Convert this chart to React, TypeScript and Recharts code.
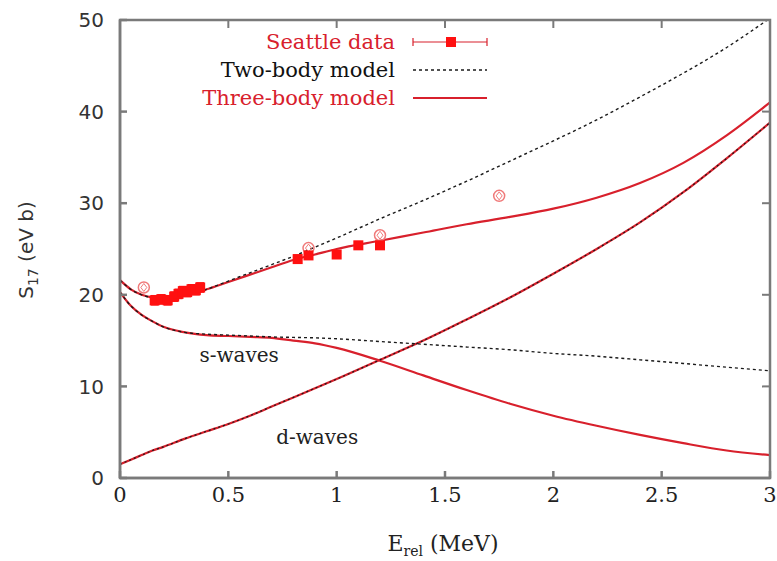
import React from 'react';
import { ComposedChart, Line, Scatter, XAxis, YAxis, ErrorBar, ReferenceDot } from 'recharts';

// Energy grid (MeV) shared by the theory curves
const energyGrid = [0, 0.05, 0.1, 0.15, 0.2, 0.3, 0.4, 0.5, 0.6, 0.7, 0.8, 0.9, 1.0, 1.2, 1.4, 1.6, 1.8, 2.0, 2.2, 2.4, 2.6, 2.8, 3.0];

// Three-body model (red solid)
const threeBodyTotal = [21.6, 20.6, 20.0, 19.7, 19.6, 19.9, 20.6, 21.4, 22.2, 23.0, 23.8, 24.4, 25.0, 25.9, 26.8, 27.7, 28.5, 29.4, 30.6, 32.2, 34.4, 37.4, 41.0];
const threeBodySWave = [20.3, 18.8, 17.8, 17.1, 16.5, 15.9, 15.6, 15.5, 15.4, 15.3, 15.0, 14.7, 14.2, 12.8, 11.2, 9.6, 8.1, 6.8, 5.7, 4.7, 3.8, 3.0, 2.5];
const threeBodyDWave = [1.5, 2.0, 2.5, 3.0, 3.4, 4.3, 5.1, 5.9, 6.8, 7.8, 8.8, 9.8, 10.8, 12.9, 15.0, 17.3, 19.7, 22.3, 25.0, 27.9, 31.2, 34.9, 38.8];

// Two-body model (black dashed)
const twoBodyTotal = [21.6, 20.6, 20.0, 19.7, 19.6, 19.9, 20.6, 21.5, 22.4, 23.3, 24.2, 25.2, 26.2, 28.3, 30.3, 32.4, 34.6, 36.8, 39.1, 41.6, 44.2, 47.0, 50.2];
const twoBodySWave = [20.3, 18.8, 17.8, 17.1, 16.5, 15.9, 15.7, 15.6, 15.5, 15.4, 15.35, 15.3, 15.2, 14.9, 14.6, 14.3, 14.0, 13.6, 13.3, 12.9, 12.5, 12.1, 11.7];
const twoBodyDWave = [1.5, 2.0, 2.5, 3.0, 3.4, 4.3, 5.1, 5.9, 6.8, 7.8, 8.8, 9.8, 10.8, 12.9, 15.0, 17.3, 19.7, 22.3, 25.0, 27.9, 31.2, 34.9, 38.8];

// Seattle data (filled squares)
const seattleE = [0.16, 0.19, 0.22, 0.25, 0.27, 0.29, 0.31, 0.33, 0.35, 0.37, 0.82, 0.87, 1.0, 1.1, 1.2];
const seattleS = [19.4, 19.5, 19.4, 19.8, 20.1, 20.4, 20.3, 20.6, 20.5, 20.8, 23.9, 24.3, 24.4, 25.4, 25.4];
const seattleErr = [0.5, 0.5, 0.5, 0.5, 0.5, 0.5, 0.5, 0.5, 0.5, 0.5, 0.4, 0.4, 0.4, 0.4, 0.4];

// Other measurements (open pink symbols)
const otherE = [0.11, 0.87, 1.2, 1.75];
const otherS = [20.8, 25.1, 26.5, 30.8];

const xTicks = [0, 0.5, 1, 1.5, 2, 2.5, 3];
const yTicks = [0, 10, 20, 30, 40, 50];

const toPoints = (xs: number[], ys: number[]) => xs.map((x, i) => ({ x, y: ys[i] }));
const seattleData = seattleE.map((x, i) => ({ x, y: seattleS[i], err: seattleErr[i] }));
const otherData = toPoints(otherE, otherS);

const RED = '#d8202c';
const BRIGHT = '#ff1010';
const PINK = '#f07a7a';
const AXIS = '#7a7a7a';
const SERIF = '"DejaVu Serif", "Liberation Serif", serif';
const SANS = '"DejaVu Sans", "Liberation Sans", sans-serif';

// plot frame (pixels) used only for the decorative border / mirrored ticks
const FRAME = { left: 120, top: 20, right: 770, bottom: 478 };
const xMax = 3;
const yMax = 50;

const Square = (p: any) => (
  <rect x={p.cx - 5} y={p.cy - 5} width={10} height={10} fill={BRIGHT} />
);
const OpenMark = (p: any) => (
  <g>
    <circle cx={p.cx} cy={p.cy} r={5.5} fill="none" stroke={PINK} strokeWidth={1.5} />
    <path d={`M${p.cx} ${p.cy - 4} L${p.cx + 3} ${p.cy} L${p.cx} ${p.cy + 4} L${p.cx - 3} ${p.cy} Z`} fill="none" stroke={PINK} strokeWidth={1} />
  </g>
);

const fmt = (v: number) => String(v);

export default function App() {
  const fw = FRAME.right - FRAME.left;
  const fh = FRAME.bottom - FRAME.top;
  const LX = 190;
  const LY = 25;
  return (
    <div style={{ position: 'absolute', left: 0, top: 0, width: 777, height: 561, background: '#fff' }}>
      <ComposedChart width={777} height={561} margin={{ top: 20, right: 7, bottom: 43, left: 60 }}>
        <XAxis
          xAxisId="x"
          dataKey="x"
          type="number"
          domain={[0, 3]}
          ticks={xTicks}
          tickFormatter={fmt}
          allowDataOverflow
          height={40}
          stroke={AXIS}
          strokeWidth={2.5}
          tickSize={-7}
          tickMargin={16}
          tick={{ fontFamily: SERIF, fontSize: 21, fill: '#222' }}
          label={{
            content: () => (
              <text x={443} y={551} textAnchor="middle" fontFamily={SERIF} fontSize={22} fill="#222">
                E<tspan dy={5} fontSize={14}>rel</tspan>
                <tspan dy={-5}> (MeV)</tspan>
              </text>
            ),
          }}
        />
        <YAxis
          yAxisId="y"
          type="number"
          domain={[0, 50]}
          ticks={yTicks}
          allowDataOverflow
          width={60}
          stroke={AXIS}
          strokeWidth={2.5}
          tickSize={-7}
          tickMargin={23}
          tick={{ fontFamily: SANS, fontSize: 20, fill: '#333' }}
          label={{
            content: () => (
              <text x={33} y={250} transform="rotate(-90 33 250)" textAnchor="middle" fontFamily={SANS} fontSize={20} fill="#333">
                S<tspan dy={5} fontSize={14}>17</tspan>
                <tspan dy={-5}> (eV b)</tspan>
              </text>
            ),
          }}
        />

        <Line xAxisId="x" yAxisId="y" data={toPoints(energyGrid, threeBodyTotal)} dataKey="y" type="monotone" stroke={RED} strokeWidth={2.2} dot={false} isAnimationActive={false} />
        <Line xAxisId="x" yAxisId="y" data={toPoints(energyGrid, threeBodySWave)} dataKey="y" type="monotone" stroke={RED} strokeWidth={2.2} dot={false} isAnimationActive={false} />
        <Line xAxisId="x" yAxisId="y" data={toPoints(energyGrid, threeBodyDWave)} dataKey="y" type="monotone" stroke={RED} strokeWidth={2.2} dot={false} isAnimationActive={false} />
        <Line xAxisId="x" yAxisId="y" data={toPoints(energyGrid, twoBodyTotal)} dataKey="y" type="monotone" stroke="#1a1a1a" strokeWidth={1.4} strokeDasharray="3 3" dot={false} isAnimationActive={false} />
        <Line xAxisId="x" yAxisId="y" data={toPoints(energyGrid, twoBodySWave)} dataKey="y" type="monotone" stroke="#1a1a1a" strokeWidth={1.4} strokeDasharray="3 3" dot={false} isAnimationActive={false} />
        <Line xAxisId="x" yAxisId="y" data={toPoints(energyGrid, twoBodyDWave)} dataKey="y" type="monotone" stroke="#1a1a1a" strokeWidth={1.2} strokeDasharray="2 3" dot={false} isAnimationActive={false} />

        <Scatter xAxisId="x" yAxisId="y" data={otherData} dataKey="y" shape={OpenMark} isAnimationActive={false} />
        <Scatter xAxisId="x" yAxisId="y" data={seattleData} dataKey="y" shape={Square} isAnimationActive={false}>
          <ErrorBar dataKey="err" direction="y" width={4} stroke={BRIGHT} strokeWidth={1.5} />
        </Scatter>

        <ReferenceDot
          xAxisId="x"
          yAxisId="y"
          x={0.55}
          y={13.4}
          r={0}
          ifOverflow="visible"
          shape={(p: any) => (
            <text x={p.cx} y={p.cy} textAnchor="middle" dominantBaseline="central" fontFamily={SERIF} fontSize={20} fill="#222">s-waves</text>
          )}
        />
        <ReferenceDot
          xAxisId="x"
          yAxisId="y"
          x={0.91}
          y={4.5}
          r={0}
          ifOverflow="visible"
          shape={(p: any) => (
            <text x={p.cx} y={p.cy} textAnchor="middle" dominantBaseline="central" fontFamily={SERIF} fontSize={20} fill="#222">d-waves</text>
          )}
        />
      </ComposedChart>

      {/* frame, mirrored inward ticks and legend in one overlay */}
      <svg style={{ position: 'absolute', left: 0, top: 0, pointerEvents: 'none' }} width={777} height={561}>
        <rect x={FRAME.left} y={FRAME.top} width={fw} height={fh} fill="none" stroke={AXIS} strokeWidth={2.5} />
        {xTicks.map((t) => {
          const x = FRAME.left + (t / xMax) * fw;
          return <line key={'tx' + t} x1={x} y1={FRAME.top} x2={x} y2={FRAME.top + 8} stroke={AXIS} strokeWidth={2} />;
        })}
        {yTicks.map((t) => {
          const y = FRAME.bottom - (t / yMax) * fh;
          return <line key={'ty' + t} x1={FRAME.right} y1={y} x2={FRAME.right - 8} y2={y} stroke={AXIS} strokeWidth={2} />;
        })}

        <g transform={`translate(${LX} ${LY})`}>
          <text x={205} y={17} textAnchor="end" dominantBaseline="central" fontFamily={SERIF} fontSize={21} fill={RED}>Seattle data</text>
          <line x1={223} y1={17} x2={297} y2={17} stroke={RED} strokeWidth={1.2} />
          <line x1={223} y1={13} x2={223} y2={21} stroke={RED} strokeWidth={1.2} />
          <line x1={297} y1={13} x2={297} y2={21} stroke={RED} strokeWidth={1.2} />
          <rect x={256} y={12} width={10} height={10} fill={BRIGHT} />

          <text x={205} y={45} textAnchor="end" dominantBaseline="central" fontFamily={SERIF} fontSize={21} fill="#111">Two-body model</text>
          <line x1={223} y1={45} x2={297} y2={45} stroke="#1a1a1a" strokeWidth={1.4} strokeDasharray="3 3" />

          <text x={205} y={73} textAnchor="end" dominantBaseline="central" fontFamily={SERIF} fontSize={21} fill={RED}>Three-body model</text>
          <line x1={223} y1={73} x2={297} y2={73} stroke={RED} strokeWidth={2.2} />
        </g>
      </svg>
    </div>
  );
}
